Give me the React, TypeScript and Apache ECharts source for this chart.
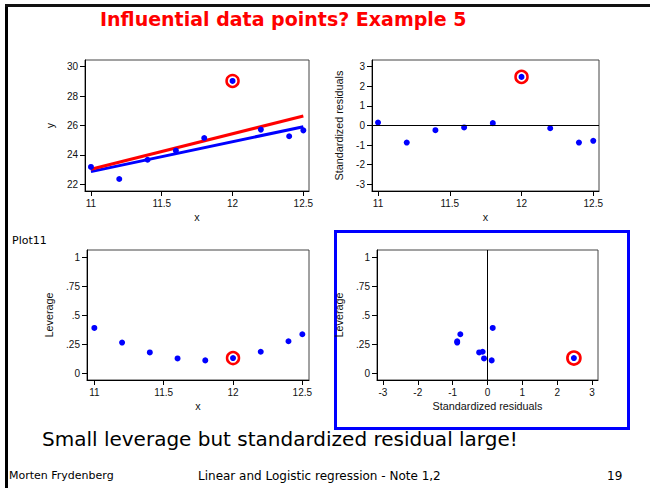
import React, { useEffect, useRef } from "react";
import * as echarts from "echarts";

// ---- data ----
const xValues = [11, 11.2, 11.4, 11.6, 11.8, 12, 12.2, 12.4, 12.5];
const yValues = [23.18, 22.36, 23.67, 24.29, 25.15, 29.03, 25.72, 25.27, 25.67];
const stdResiduals = [0.15, -0.87, -0.24, -0.1, 0.12, 2.48, -0.14, -0.87, -0.78];
const leverage = [0.392, 0.267, 0.182, 0.131, 0.114, 0.134, 0.188, 0.278, 0.338];
const fitAllX = [11, 12.5];
const fitAllY = [23.02, 26.65];
const fitWithoutX = [11, 12.5];
const fitWithoutY = [22.86, 25.92];
const influentialIndex = 5;
const xTicks = [11, 11.5, 12, 12.5];
const yTicks = [22, 24, 26, 28, 30];
const residTicks = [-3, -2, -1, 0, 1, 2, 3];
const leverageTicks = [0, 0.25, 0.5, 0.75, 1];

const titleText = "Influential data points? Example 5";
const plotLabel = "Plot11";
const noteText = "Small leverage but standardized residual large!";
const footerLeft = "Morten Frydenberg";
const footerMid = "Linear and Logistic regression - Note 1,2";
const footerRight = "19";

const AX_FONT = "'Liberation Sans', Arial, sans-serif";
const SLIDE_FONT = "'DejaVu Sans', sans-serif";

function levFmt(v: number): string {
  if (v === 0) return "0";
  if (v === 1) return "1";
  return String(v).replace(/^0/, "");
}

function axis(
  gridIndex: number,
  min: number,
  max: number,
  ticks: number[],
  name: string,
  nameGap: number,
  formatter?: (v: number) => string
) {
  return {
    type: "value",
    gridIndex,
    min,
    max,
    name,
    nameLocation: "middle",
    nameGap,
    nameTextStyle: { fontSize: 10.8, fontFamily: AX_FONT, color: "#111" },
    axisLine: { show: true, onZero: false, lineStyle: { color: "#000", width: 1 } },
    axisTick: { show: true, customValues: ticks, length: 5, lineStyle: { color: "#000", width: 1 } },
    axisLabel: {
      customValues: ticks,
      fontSize: 10,
      fontFamily: AX_FONT,
      color: "#111",
      margin: 7,
      formatter: formatter ? (v: number) => formatter(v) : undefined,
    },
    splitLine: { show: false },
  };
}

export default function App() {
  const ref = useRef<HTMLDivElement>(null);
  useEffect(() => {
    if (!ref.current) return;
    const chart = echarts.init(ref.current, null, { renderer: "svg" });
    const pts = (xs: number[], ys: number[]) => xs.map((x, i) => [x, ys[i]]);
    const scatterData1 = pts(xValues, yValues);
    const scatterData2 = pts(xValues, stdResiduals);
    const scatterData3 = pts(xValues, leverage);
    const scatterData4 = pts(stdResiduals, leverage);
    const hi = (d: number[][]) => [d[influentialIndex]];
    const dot = { color: "#0000ff", opacity: 1 };
    const ring = (size: number, bw: number) => ({
      type: "scatter",
      symbol: "circle",
      symbolSize: size,
      itemStyle: { color: "rgba(0,0,0,0)", borderColor: "#ff0000", borderWidth: bw, opacity: 1 },
      z: 5,
    });
    const option: any = {
      animation: false,
      backgroundColor: "#fff",
      grid: [
        { left: 85, top: 60, width: 224, height: 131, show: true, borderColor: "#444", borderWidth: 1 },
        { left: 372, top: 60, width: 227, height: 131, show: true, borderColor: "#444", borderWidth: 1 },
        { left: 87, top: 250, width: 222, height: 130, show: true, borderColor: "#444", borderWidth: 1 },
        { left: 377, top: 250, width: 221, height: 130, show: true, borderColor: "#444", borderWidth: 1 },
      ],
      xAxis: [
        axis(0, 10.958, 12.54, xTicks, "x", 20),
        axis(1, 10.958, 12.54, xTicks, "x", 20),
        axis(2, 10.947, 12.548, xTicks, "x", 20),
        axis(3, -3.172, 3.172, residTicks, "Standardized residuals", 20),
      ],
      yAxis: [
        axis(0, 21.544, 30.456, yTicks, "y", 30),
        axis(1, -3.342, 3.342, residTicks, "Standardized residuals", 28),
        axis(2, -0.054, 1.06, leverageTicks, "Leverage", 33, levFmt),
        axis(3, -0.054, 1.06, leverageTicks, "Leverage", 33, levFmt),
      ],
      series: [
        {
          type: "line",
          xAxisIndex: 0,
          yAxisIndex: 0,
          data: pts(fitWithoutX, fitWithoutY),
          showSymbol: false,
          lineStyle: { color: "#0000ff", width: 3 },
        },
        {
          type: "line",
          xAxisIndex: 0,
          yAxisIndex: 0,
          data: pts(fitAllX, fitAllY),
          showSymbol: false,
          lineStyle: { color: "#ff0000", width: 3 },
        },
        { type: "scatter", xAxisIndex: 0, yAxisIndex: 0, data: scatterData1, symbolSize: 6, itemStyle: dot, z: 4 },
        { ...ring(12, 2.5), xAxisIndex: 0, yAxisIndex: 0, data: hi(scatterData1) },
        {
          type: "scatter",
          xAxisIndex: 1,
          yAxisIndex: 1,
          data: scatterData2,
          symbolSize: 6,
          itemStyle: dot,
          z: 4,
          markLine: {
            silent: true,
            symbol: "none",
            label: { show: false },
            lineStyle: { color: "#000", width: 1, type: "solid" },
            data: [{ yAxis: 0 }],
          },
        },
        { ...ring(12, 2.5), xAxisIndex: 1, yAxisIndex: 1, data: hi(scatterData2) },
        { type: "scatter", xAxisIndex: 2, yAxisIndex: 2, data: scatterData3, symbolSize: 6, itemStyle: dot, z: 4 },
        { ...ring(12, 2.5), xAxisIndex: 2, yAxisIndex: 2, data: hi(scatterData3) },
        {
          type: "scatter",
          xAxisIndex: 3,
          yAxisIndex: 3,
          data: scatterData4,
          symbolSize: 6,
          itemStyle: dot,
          z: 4,
          markLine: {
            silent: true,
            symbol: "none",
            label: { show: false },
            lineStyle: { color: "#000", width: 1, type: "solid" },
            data: [{ xAxis: 0 }],
          },
        },
        { ...ring(13, 2.7), xAxisIndex: 3, yAxisIndex: 3, data: hi(scatterData4) },
      ],
      graphic: [
        { type: "rect", left: 5, top: 4, shape: { width: 3, height: 484 }, style: { fill: "#000" } },
        { type: "rect", left: 5, top: 4, shape: { width: 645, height: 3 }, style: { fill: "#111" } },
        {
          type: "rect",
          left: 333,
          top: 229,
          shape: { width: 293, height: 197 },
          style: { fill: "none", stroke: "#0000ff", lineWidth: 3 },
        },
        {
          type: "text",
          left: 100,
          top: 9,
          style: { text: titleText, fill: "#ff0000", fontSize: 19, fontWeight: "bold", fontFamily: SLIDE_FONT },
        },
        {
          type: "text",
          left: 12,
          top: 235,
          style: { text: plotLabel, fill: "#000", fontSize: 11, fontFamily: SLIDE_FONT },
        },
        {
          type: "text",
          left: 42,
          top: 429,
          style: { text: noteText, fill: "#000", fontSize: 20, fontFamily: SLIDE_FONT },
        },
        {
          type: "text",
          left: 9,
          top: 470,
          style: { text: footerLeft, fill: "#000", fontSize: 11, fontFamily: SLIDE_FONT },
        },
        {
          type: "text",
          left: 198,
          top: 470,
          style: { text: footerMid, fill: "#000", fontSize: 12, fontFamily: SLIDE_FONT },
        },
        {
          type: "text",
          left: 607,
          top: 470,
          style: { text: footerRight, fill: "#000", fontSize: 12, fontFamily: SLIDE_FONT },
        },
      ],
    };
    chart.setOption(option);
    return () => chart.dispose();
  }, []);
  return (
    <div
      ref={ref}
      style={{ position: "absolute", left: 0, top: 0, width: 650, height: 488, background: "#fff" }}
    />
  );
}
